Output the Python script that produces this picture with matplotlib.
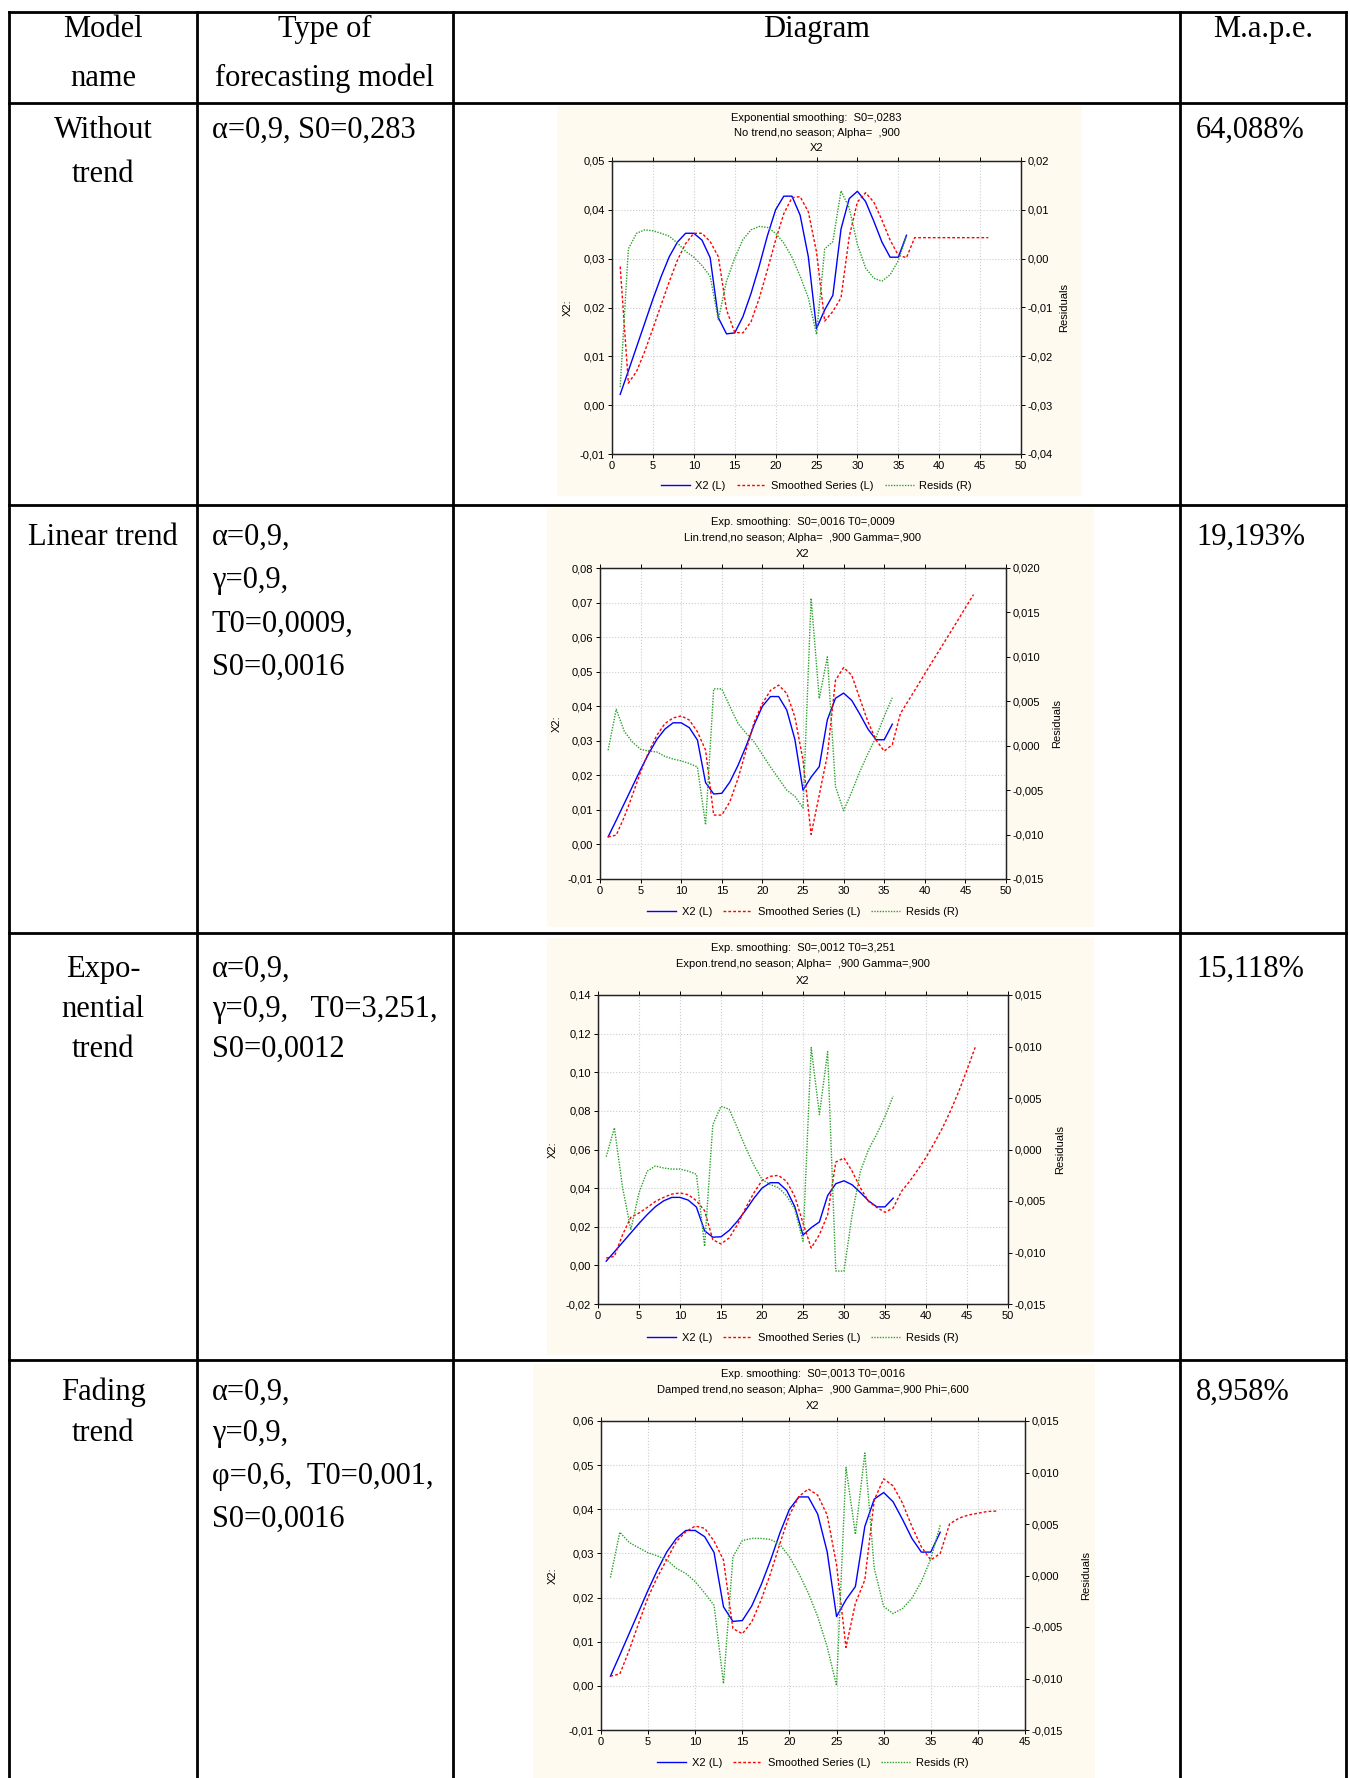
import numpy as np
import matplotlib
matplotlib.use('Agg')
import matplotlib.pyplot as plt
from matplotlib.patches import Rectangle
from matplotlib.ticker import FuncFormatter, FixedLocator

W, H = 1350, 1778

# observed series X2 (t = 1..36), same in every chart
x2 = [0.0022, 0.0070, 0.0119, 0.0168, 0.0217, 0.0263, 0.0304, 0.0334, 0.0352, 0.0352,
      0.0338, 0.0302, 0.0179, 0.0146, 0.0148, 0.0181, 0.0229, 0.0285, 0.0347, 0.0400,
      0.0428, 0.0428, 0.0389, 0.0304, 0.0157, 0.0195, 0.0225, 0.0361, 0.0423, 0.0438,
      0.0417, 0.0377, 0.0334, 0.0303, 0.0303, 0.0348]

# no trend
smooth_none = [0.0284, 0.0045, 0.0069, 0.0110, 0.0157, 0.0205, 0.0253, 0.0297, 0.0331, 0.0352,
               0.0352, 0.0335, 0.0304, 0.0195, 0.0149, 0.0148, 0.0171, 0.0219, 0.0277, 0.0338,
               0.0392, 0.0425, 0.0427, 0.0396, 0.0314, 0.0172, 0.0192, 0.0220, 0.0345, 0.0416,
               0.0435, 0.0416, 0.0379, 0.0338, 0.0307, 0.0302, 0.0343, 0.0343, 0.0343, 0.0343,
               0.0343, 0.0343, 0.0343, 0.0343, 0.0343, 0.0343]
resid_none = [-0.0263, 0.0020, 0.0052, 0.0059, 0.0057, 0.0052, 0.0046, 0.0032, 0.0015, 0.0003,
              -0.0014, -0.0036, -0.0125, -0.0046, 0.0001, 0.0039, 0.0059, 0.0066, 0.0064, 0.0052,
              0.0032, 0.0003, -0.0036, -0.0080, -0.0155, 0.0020, 0.0035, 0.0139, 0.0104, 0.0029,
              -0.0019, -0.0040, -0.0046, -0.0033, -0.0004, 0.0046]

# linear trend
smooth_lin = [0.0022, 0.0027, 0.0080, 0.0143, 0.0210, 0.0268, 0.0316, 0.0350, 0.0366, 0.0372,
              0.0360, 0.0326, 0.0273, 0.0085, 0.0085, 0.0124, 0.0191, 0.0273, 0.0355, 0.0408,
              0.0446, 0.0461, 0.0437, 0.0369, 0.0244, 0.0029, 0.0143, 0.0258, 0.0475, 0.0512,
              0.0490, 0.0422, 0.0355, 0.0302, 0.0270, 0.0289, 0.0379, 0.0417, 0.0455, 0.0494,
              0.0532, 0.0570, 0.0608, 0.0646, 0.0685, 0.0723]
resid_lin = [-0.0005, 0.0041, 0.0016, 0.0004, -0.0004, -0.0006, -0.0007, -0.0012, -0.0015, -0.0017,
             -0.0020, -0.0024, -0.0089, 0.0064, 0.0064, 0.0044, 0.0025, 0.0014, 0.0004, -0.0010,
             -0.0024, -0.0037, -0.0050, -0.0057, -0.0070, 0.0166, 0.0053, 0.0100, -0.0046, -0.0073,
             -0.0052, -0.0029, -0.0009, 0.0010, 0.0033, 0.0054]

# exponential trend
smooth_exp = [0.0038, 0.0047, 0.0159, 0.0249, 0.0271, 0.0300, 0.0331, 0.0352, 0.0369, 0.0375,
              0.0366, 0.0335, 0.0283, 0.0133, 0.0111, 0.0142, 0.0211, 0.0297, 0.0375, 0.0439,
              0.0461, 0.0466, 0.0435, 0.0357, 0.0219, 0.0090, 0.0159, 0.0262, 0.0535, 0.0556,
              0.0487, 0.0401, 0.0331, 0.0300, 0.0275, 0.0297, 0.0383, 0.0435, 0.0495, 0.0559,
              0.0633, 0.0711, 0.0801, 0.0901, 0.1013, 0.1129]
resid_exp = [-0.0007, 0.0021, -0.0037, -0.0078, -0.0042, -0.0021, -0.0016, -0.0018, -0.0019, -0.0019,
             -0.0021, -0.0024, -0.0094, 0.0024, 0.0042, 0.0039, 0.0021, 0.0002, -0.0015, -0.0029,
             -0.0034, -0.0037, -0.0045, -0.0058, -0.0089, 0.0099, 0.0034, 0.0095, -0.0118, -0.0118,
             -0.0063, -0.0021, 0.0000, 0.0015, 0.0032, 0.0052]

# damped trend
smooth_damp = [0.0022, 0.0027, 0.0081, 0.0142, 0.0201, 0.0247, 0.0287, 0.0327, 0.0349, 0.0362,
               0.0357, 0.0328, 0.0285, 0.0130, 0.0118, 0.0145, 0.0195, 0.0255, 0.0323, 0.0387,
               0.0429, 0.0446, 0.0432, 0.0387, 0.0274, 0.0087, 0.0187, 0.0240, 0.0421, 0.0469,
               0.0453, 0.0414, 0.0361, 0.0315, 0.0285, 0.0300, 0.0367, 0.0380, 0.0387, 0.0391,
               0.0395, 0.0396]
resid_damp = [-0.0002, 0.0042, 0.0032, 0.0027, 0.0022, 0.0019, 0.0015, 0.0007, 0.0002, -0.0006,
              -0.0017, -0.0029, -0.0105, 0.0018, 0.0034, 0.0036, 0.0036, 0.0035, 0.0030, 0.0018,
              0.0002, -0.0017, -0.0040, -0.0069, -0.0107, 0.0105, 0.0040, 0.0119, 0.0007, -0.0030,
              -0.0037, -0.0032, -0.0022, -0.0006, 0.0016, 0.0049]

model_names = [["Without", "trend"], ["Linear trend"], ["Expo-", "nential", "trend"], ["Fading", "trend"]]
model_types = [["α=0,9, S0=0,283"],
               ["α=0,9,", "γ=0,9,", "T0=0,0009,", "S0=0,0016"],
               ["α=0,9,", "γ=0,9,   T0=3,251,", "S0=0,0012"],
               ["α=0,9,", "γ=0,9,", "φ=0,6,  T0=0,001,", "S0=0,0016"]]
mape = ["64,088%", "19,193%", "15,118%", "8,958%"]

titles = [["Exponential smoothing:  S0=,0283", "No trend,no season; Alpha=  ,900", "X2"],
          ["Exp. smoothing:  S0=,0016 T0=,0009", "Lin.trend,no season; Alpha=  ,900 Gamma=,900", "X2"],
          ["Exp. smoothing:  S0=,0012 T0=3,251", "Expon.trend,no season; Alpha=  ,900 Gamma=,900", "X2"],
          ["Exp. smoothing:  S0=,0013 T0=,0016", "Damped trend,no season; Alpha=  ,900 Gamma=,900 Phi=,600", "X2"]]
smooths = [smooth_none, smooth_lin, smooth_exp, smooth_damp]
resids = [resid_none, resid_lin, resid_exp, resid_damp]
left_ticks = [(-0.01, 0.05, 0.01), (-0.01, 0.08, 0.01), (-0.02, 0.14, 0.02), (-0.01, 0.06, 0.01)]
right_ticks = [(-0.04, 0.02, 0.01), (-0.015, 0.020, 0.005), (-0.015, 0.015, 0.005), (-0.015, 0.015, 0.005)]
right_dec = [2, 3, 3, 3]
x_max = [50, 50, 50, 45]

# layout in pixels
row_lines = [103, 505, 933, 1360]
col_lines = [9, 197, 453, 1180, 1346]
top_line = 12
name_base = [[138, 182], [545], [977, 1017, 1057], [1400, 1441]]
type_base = [[138], [545, 588, 632, 675], [977, 1017, 1057], [1400, 1441, 1484, 1527]]
cream_box = [(557, 106, 1082, 496), (547, 508, 1094, 927), (547, 938, 1094, 1355), (533, 1364, 1095, 1778)]
axes_box = [(612, 161, 1021, 454), (600, 568, 1006, 879), (598, 995, 1008, 1304), (601, 1421, 1025, 1730)]
title_y = [(118, 133, 148), (522, 538, 554), (948, 964, 981), (1374, 1390, 1406)]
legend_y = [486, 912, 1338, 1763]
ylab_x = [568, 557, 553, 553]
rlab_x = [1064, 1057, 1060, 1086]

fig = plt.figure(figsize=(W / 100, H / 100), dpi=100)
base = fig.add_axes([0, 0, 1, 1], zorder=0)
base.set_xlim(0, W)
base.set_ylim(H, 0)
base.axis('off')

serif = 'Liberation Serif'
sans = 'Liberation Sans'
fs = 22
cs = 8  # chart text size

# table grid
lw = 2.0
base.plot([col_lines[0], col_lines[-1]], [top_line, top_line], color='black', lw=lw)
for y in row_lines:
    base.plot([col_lines[0], col_lines[-1]], [y, y], color='black', lw=lw)
for x in col_lines:
    base.plot([x, x], [top_line, H], color='black', lw=lw)

# header
base.text(103, 37, "Model", fontsize=fs, family=serif, ha='center', va='baseline')
base.text(103, 86, "name", fontsize=fs, family=serif, ha='center', va='baseline')
base.text(325, 37, "Type of", fontsize=fs, family=serif, ha='center', va='baseline')
base.text(325, 86, "forecasting model", fontsize=fs, family=serif, ha='center', va='baseline')
base.text(816, 37, "Diagram", fontsize=fs, family=serif, ha='center', va='baseline')
base.text(1263, 37, "M.a.p.e.", fontsize=fs, family=serif, ha='center', va='baseline')

for i in range(4):
    for txt, yb in zip(model_names[i], name_base[i]):
        base.text(103, yb, txt, fontsize=fs, family=serif, ha='center', va='baseline')
    for txt, yb in zip(model_types[i], type_base[i]):
        base.text(212, yb, txt, fontsize=fs, family=serif, ha='left', va='baseline')
    base.text(1196, name_base[i][0], mape[i], fontsize=fs, family=serif, ha='left', va='baseline')

    cl, ct, cr, cb = cream_box[i]
    base.add_patch(Rectangle((cl, ct), cr - cl, cb - ct, facecolor='#FFFAF0', edgecolor='none'))

    l, t, r, b = axes_box[i]
    ax = fig.add_axes([l / W, 1 - b / H, (r - l) / W, (b - t) / H], zorder=2)
    ax.set_facecolor('white')
    axr = ax.twinx()

    t_x2 = np.arange(1, len(x2) + 1)
    t_s = np.arange(1, len(smooths[i]) + 1)
    t_r = np.arange(1, len(resids[i]) + 1)
    h1, = ax.plot(t_x2, x2, color='#0000FF', lw=1.0, label='X2 (L)')
    h2, = ax.plot(t_s, smooths[i], color='#FF0000', lw=1.0, linestyle=(0, (2, 1.5)), label='Smoothed Series (L)')
    h3, = axr.plot(t_r, resids[i], color='#2AA02A', lw=1.0, linestyle=(0, (1, 1)), label='Resids (R)')

    lo, hi, st = left_ticks[i]
    lt = np.round(np.arange(lo, hi + st / 2, st), 4)
    ax.set_ylim(lo, hi)
    ax.yaxis.set_major_locator(FixedLocator(lt))
    ax.yaxis.set_major_formatter(FuncFormatter(lambda v, p: f"{0.0 if abs(v) < 1e-9 else v:.2f}".replace('.', ',')))

    lo, hi, st = right_ticks[i]
    rt = np.round(np.arange(lo, hi + st / 2, st), 4)
    axr.set_ylim(lo, hi)
    axr.yaxis.set_major_locator(FixedLocator(rt))
    d = right_dec[i]
    axr.yaxis.set_major_formatter(FuncFormatter(lambda v, p, d=d: f"{0.0 if abs(v) < 1e-9 else v:.{d}f}".replace('.', ',')))

    ax.set_xlim(0, x_max[i])
    ax.xaxis.set_major_locator(FixedLocator(np.arange(0, x_max[i] + 1, 5)))

    ax.grid(True, color='#CCCCCC', linestyle=':', lw=0.8)
    for a in (ax, axr):
        a.tick_params(labelsize=cs, length=3, width=0.7, pad=2, colors='black')
        for s in a.spines.values():
            s.set_color('#222222')
            s.set_linewidth(0.9)
    ax.tick_params(axis='x', top=True)
    for lab in ax.get_xticklabels() + ax.get_yticklabels() + axr.get_yticklabels():
        lab.set_family(sans)

    cx = (l + r) / 2
    for txt, yy in zip(titles[i], title_y[i]):
        base.text(cx, yy, txt, fontsize=cs, family=sans, ha='center', va='center')
    base.text(ylab_x[i], (t + b) / 2, "X2:", fontsize=cs, family=sans, rotation=90, ha='center', va='center')
    base.text(rlab_x[i], (t + b) / 2, "Residuals", fontsize=cs, family=sans, rotation=90, ha='center', va='center')

    ax.legend([h1, h2, h3], ['X2 (L)', 'Smoothed Series (L)', 'Resids (R)'], loc='center',
              bbox_to_anchor=(cx / W, 1 - legend_y[i] / H), bbox_transform=fig.transFigure,
              ncol=3, frameon=False, prop={'family': sans, 'size': cs},
              handlelength=2.6, columnspacing=1.0, handletextpad=0.5)

fig.savefig('out.png', dpi=100, facecolor='white')
